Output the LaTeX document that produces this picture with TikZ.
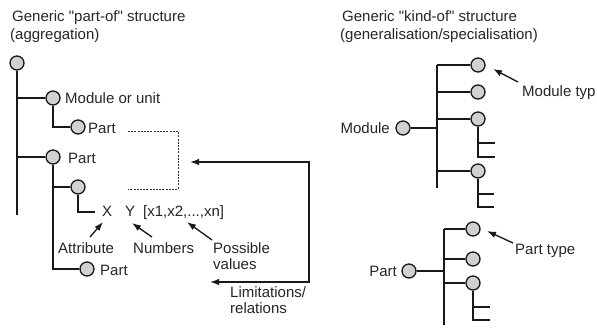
\documentclass[tikz,border=0pt]{standalone}
\usepackage{fontspec}
\setmainfont{Liberation Sans}
\usetikzlibrary{arrows.meta}
\begin{document}
\begin{tikzpicture}[x=1pt,y=-1pt,
  dot/.style={circle,draw=black!90,fill=black!18,minimum size=14pt,inner sep=0pt,line width=1.3pt},
  lbl/.style={inner sep=0pt,text height=11pt,text depth=0pt,font=\fontsize{15}{16}\selectfont,text=black!85},
  multi/.style={inner sep=0pt,align=left,font=\fontsize{15}{16}\selectfont,text=black!85},
  title/.style={inner sep=0pt,font=\fontsize{15}{18}\selectfont,text=black!85},
  ln/.style={line width=1.35pt,draw=black!90},
  dsh/.style={line width=0.9pt,draw=black!80,dash pattern=on 2pt off 1.2pt},
  arr/.style={ln,-{Latex[length=9pt,width=6.5pt]}},
  arrb/.style={ln,{Latex[length=9pt,width=6.5pt]}-{Latex[length=9pt,width=6.5pt]}}]
\useasboundingbox (0,0) rectangle (597,327);

% titles
\node[title,anchor=base west] (t1) at (12,21) {Generic \textquotedbl part-of\textquotedbl{} structure};
\node[title,anchor=base west] (t2) at (10,39) {(aggregation)};
\node[title,anchor=base west] (t3) at (342,21) {Generic \textquotedbl kind-of\textquotedbl{} structure};
\node[title,anchor=base west] (t4) at (340,39) {(generalisation/specialisation)};

% ---------- left tree ----------
\node[dot] (c0) at (17,63) {};
\node[dot] (c1) at (53,98) {};
\node[dot] (c2) at (78,127) {};
\node[dot] (c3) at (53,157) {};
\node[dot] (c4) at (78,187) {};
\node[dot] (c5) at (87,269) {};
\coordinate (mainend) at (17,215);
\draw[ln] (c0.south) -- (mainend);
\draw[ln] (c0.south |- c1) -- (c1.west);
\draw[ln] (c0.south |- c3) -- (c3.west);
\draw[ln] (c1.south) |- (c2.west);
\draw[ln] (c3.south) |- (c5.west);
\draw[ln] (c3.south |- c4) -- (c4.west);

\node[lbl,anchor=west] (l1) at (65,98) {Module or unit};
\node[lbl,anchor=west] (l2) at (88,128) {Part};
\node[lbl,anchor=west] (l3) at (68,158) {Part};
\node[lbl,anchor=west] (l5) at (100,270) {Part};

\node[lbl,anchor=west] (xa) at (102,211) {X};
\node[lbl,anchor=west] (ya) at (125,211) {Y};
\node[lbl,anchor=west] (xv) at (143,211) {[x1,x2,...,xn]};
\coordinate (xend) at (95,212);
\draw[ln] (c4.south) |- (xend);

% dashed bracket
\coordinate (d1) at (128,131);
\coordinate (d2) at (178,131);
\coordinate (d3) at (178,189);
\coordinate (d4) at (128,189);
\draw[dsh] (d1) -- (d2) -- (d3) -- (d4);

\node[lbl,anchor=west] (att) at (58,248) {Attribute};
\node[lbl,anchor=west] (num) at (133,248) {Numbers};
\node[multi,anchor=north west] (pos) at (213,242.5) {Possible\\values};
\node[multi,anchor=north west] (lim) at (230,286.5) {Limitations/\\relations};

\coordinate (a1s) at (90,237);  \coordinate (a1e) at (103,222);
\coordinate (a2s) at (152,237); \coordinate (a2e) at (132,223);
\coordinate (a3s) at (212,240); \coordinate (a3e) at (187,222);
\draw[arr] (a1s) -- (a1e);
\draw[arr] (a2s) -- (a2e);
\draw[arr] (a3s) -- (a3e);

\coordinate (bt) at (190,162);
\coordinate (bc1) at (309,162);
\coordinate (bc2) at (309,282);
\coordinate (bb) at (210,282);
\draw[arrb] (bt) -- (bc1) -- (bc2) -- (bb);

% ---------- right: module tree ----------
\node[dot] (m0) at (403,128) {};
\node[dot] (m1) at (478,65) {};
\node[dot] (m2) at (478,92) {};
\node[dot] (m3) at (478,119) {};
\node[dot] (m4) at (478,171) {};
\coordinate (mv) at (437,188);
\draw[ln] (m1 -| mv) -- (mv);
\draw[ln] (m0.east) -- (m0 -| mv);
\draw[ln] (m1 -| mv) -- (m1.west);
\draw[ln] (m2 -| mv) -- (m2.west);
\draw[ln] (m3 -| mv) -- (m3.west);
\draw[ln] (m4 -| mv) -- (m4.west);
\coordinate (m3a) at (495,143); \coordinate (m3b) at (495,157);
\draw[ln] (m3.south) |- (m3b);
\draw[ln] (m3.south |- m3a) -- (m3a);
\coordinate (m4a) at (494,194); \coordinate (m4b) at (494,207);
\draw[ln] (m4.south) |- (m4b);
\draw[ln] (m4.south |- m4a) -- (m4a);
\node[lbl,anchor=east] (lm) at (390,128) {Module};
\node[lbl,anchor=west] (lmt) at (522,91) {Module typ};
\coordinate (ma1) at (518,82); \coordinate (ma2) at (493,69);
\draw[arr] (ma1) -- (ma2);

% ---------- right: part tree ----------
\node[dot] (p0) at (409,271) {};
\node[dot] (p1) at (473,229) {};
\node[dot] (p2) at (473,259) {};
\node[dot] (p3) at (473,283) {};
\coordinate (pv) at (444,325);
\draw[ln] (p1 -| pv) -- (pv);
\draw[ln] (p0.east) -- (p0 -| pv);
\draw[ln] (p1 -| pv) -- (p1.west);
\draw[ln] (p2 -| pv) -- (p2.west);
\draw[ln] (p3 -| pv) -- (p3.west);
\coordinate (p3a) at (490,307); \coordinate (p3b) at (490,320);
\draw[ln] (p3.south) |- (p3b);
\draw[ln] (p3.south |- p3a) -- (p3a);
\node[lbl,anchor=east] (lp) at (397,271) {Part};
\node[lbl,anchor=west] (lpt) at (515,249) {Part type};
\coordinate (pa1) at (513,243); \coordinate (pa2) at (487,231);
\draw[arr] (pa1) -- (pa2);
\end{tikzpicture}
\end{document}
